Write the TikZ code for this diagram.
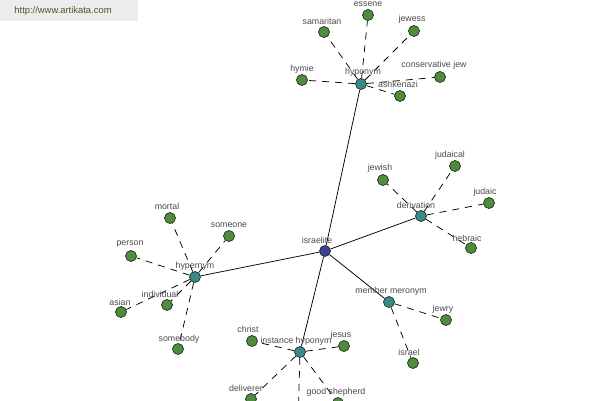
\documentclass[tikz,border=0pt]{standalone}
\usepackage{fontspec}
\setmainfont{Liberation Sans}
\usepackage{xcolor}
\usepackage{tikz}
\usetikzlibrary{positioning}
\definecolor{leafgreen}{HTML}{4E8C3E}
\definecolor{reltea}{HTML}{3A8A8C}
\definecolor{hubblue}{HTML}{3D4192}
\definecolor{rimdark}{HTML}{1F2F1F}
\definecolor{txtgray}{HTML}{4A4A4A}
\definecolor{banner}{HTML}{ECECEC}
\definecolor{bannertxt}{HTML}{4A5628}

\begin{document}
\begin{tikzpicture}[x=1pt,y=-1pt,
  leaf/.style={circle,draw=rimdark,line width=0.7pt,fill=leafgreen,minimum size=11pt,inner sep=0pt},
  rel/.style={leaf,fill=reltea},
  hub/.style={leaf,fill=hubblue},
  word/.style={font=\fontsize{8.8}{10}\selectfont,text=txtgray,inner sep=0pt},
  mainlink/.style={line width=0.75pt},
  sublink/.style={line width=0.75pt,dash pattern=on 7pt off 6pt}]
  \useasboundingbox (0,0) rectangle (600,400);
  \clip (0,0) rectangle (600,400);
  % site banner
  \fill[banner] (0,0) rectangle (138,21);
  \node[font=\fontsize{9.4}{11}\selectfont,text=bannertxt,inner sep=0pt] (site) at (63,11) {http://www.artikata.com};
  % centre and relation nodes
  \node[hub] (israelite) at (325,251) {};
  \node[rel] (hyponym) at (361,84) {};
  \node[rel] (derivation) at (421,216) {};
  \node[rel] (hypernym) at (195,277) {};
  \node[rel] (insthypo) at (300,352) {};
  \node[rel] (meronym) at (389,302) {};
  % hyponym leaves
  \node[leaf] (essene) at (368,15) {};
  \node[leaf] (samaritan) at (324,32) {};
  \node[leaf] (jewess) at (414,31) {};
  \node[leaf] (hymie) at (302,80) {};
  \node[leaf] (consjew) at (440,77) {};
  \node[leaf] (ashkenazi) at (400,96) {};
  % derivation leaves
  \node[leaf] (jewish) at (383,180) {};
  \node[leaf] (judaical) at (455,166) {};
  \node[leaf] (judaic) at (489,203) {};
  \node[leaf] (hebraic) at (471,248) {};
  % hypernym leaves
  \node[leaf] (mortal) at (170,218) {};
  \node[leaf] (someone) at (229,236) {};
  \node[leaf] (person) at (131,256) {};
  \node[leaf] (asian) at (121,312) {};
  \node[leaf] (individual) at (167,305) {};
  \node[leaf] (somebody) at (178,349) {};
  % instance hyponym leaves
  \node[leaf] (christ) at (252,341) {};
  \node[leaf] (jesus) at (344,346) {};
  \node[leaf] (deliverer) at (251,399) {};
  \node[leaf] (goodshep) at (338,403) {};
  \coordinate (offpage) at (298,425);
  % member meronym leaves
  \node[leaf] (jewry) at (446,320) {};
  \node[leaf] (israel) at (413,363) {};
  % connectors
  \foreach \r in {hyponym,derivation,hypernym,insthypo,meronym}
    \draw[mainlink] (israelite) -- (\r);
  \foreach \l in {essene,samaritan,jewess,hymie,consjew,ashkenazi}
    \draw[sublink] (hyponym) -- (\l);
  \foreach \l in {jewish,judaical,judaic,hebraic}
    \draw[sublink] (derivation) -- (\l);
  \foreach \l in {mortal,someone,person,asian,individual,somebody}
    \draw[sublink] (hypernym) -- (\l);
  \foreach \l in {christ,jesus,deliverer,goodshep,offpage}
    \draw[sublink] (insthypo) -- (\l);
  \foreach \l in {jewry,israel}
    \draw[sublink] (meronym) -- (\l);
  % labels
  \node[word] (t-israelite) at (317,240) {israelite};
  \node[word] (t-hyponym) at (363,72) {hyponym};
  \node[word] (t-derivation) at (416,205) {derivation};
  \node[word] (t-hypernym) at (195,266) {hypernym};
  \node[word] (t-insthypo) at (296,341) {instance hyponym};
  \node[word] (t-meronym) at (391,291) {member meronym};
  \node[word] (t-essene) at (368,4) {essene};
  \node[word] (t-samaritan) at (322,21) {samaritan};
  \node[word] (t-jewess) at (412,19) {jewess};
  \node[word] (t-hymie) at (302,69) {hymie};
  \node[word] (t-consjew) at (434,65) {conservative jew};
  \node[word] (t-ashkenazi) at (398,84) {ashkenazi};
  \node[word] (t-jewish) at (380,168) {jewish};
  \node[word] (t-judaical) at (450,155) {judaical};
  \node[word] (t-judaic) at (485,192) {judaic};
  \node[word] (t-hebraic) at (467,238) {hebraic};
  \node[word] (t-mortal) at (167,206) {mortal};
  \node[word] (t-someone) at (229,225) {someone};
  \node[word] (t-person) at (130,244) {person};
  \node[word] (t-asian) at (120,302) {asian};
  \node[word] (t-individual) at (160,294) {individual};
  \node[word] (t-somebody) at (179,339) {somebody};
  \node[word] (t-christ) at (248,329) {christ};
  \node[word] (t-jesus) at (341,335) {jesus};
  \node[word] (t-deliverer) at (246,388) {deliverer};
  \node[word] (t-goodshep) at (336,392) {good shepherd};
  \node[word] (t-jewry) at (443,309) {jewry};
  \node[word] (t-israel) at (409,352) {israel};
\end{tikzpicture}
\end{document}
